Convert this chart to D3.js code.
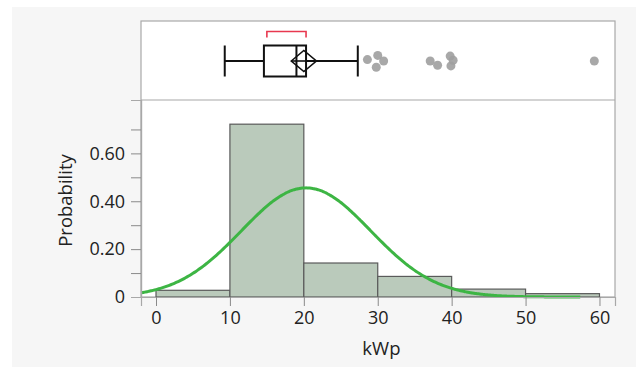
<!DOCTYPE html>
<html><head><meta charset="utf-8">
<script src="https://cdn.jsdelivr.net/npm/d3@7"></script>
<style>
html,body{margin:0;padding:0;background:#fff;}
svg{display:block;}
text{font-family:"Segoe UI","Open Sans","Noto Sans",sans-serif;}
</style></head>
<body>
<script>
// ---- data ----
const binStarts = [0, 10, 20, 30, 40, 50];
const binWidth = 10;
const binProbs = [0.028, 0.722, 0.142, 0.086, 0.033, 0.014];
const xTicks = [0, 10, 20, 30, 40, 50, 60];
const yTicks = [0, 0.2, 0.4, 0.6];
const yMinorTicks = [0.1, 0.3, 0.5, 0.7];
const yTickLabels = ["0", "0.20", "0.40", "0.60"];
const boxStats = {whiskerLow: 9.3, q1: 14.6, median: 19.0, q3: 20.3, whiskerHigh: 27.3};
const meanValue = 20.0;
const meanCI = [18.3, 21.7];
const shortestHalf = [15.0, 20.3];
const outliers = [28.6, 29.8, 30.0, 30.8, 37.1, 38.1, 39.8, 39.9, 40.2, 59.3];
const outlierJitter = [-0.1, 0.45, -0.4, 0.0, 0.0, 0.3, -0.35, 0.35, -0.05, 0.0];
const normalMean = 20.3;
const normalSD = 8.75;
const curveRange = [-2, 57.4];

// ---- layout ----
const W = 636, H = 367;
const svg = d3.select("body").append("svg").attr("width", W).attr("height", H);
svg.append("rect").attr("x", 12).attr("y", 7).attr("width", W - 12).attr("height", H - 7).attr("fill", "#f6f6f6");

const plotL = 141, plotR = 615, boxTop = 21, boxBot = 100, histBot = 297;
const x = d3.scaleLinear().domain([-2.03, 62.1]).range([plotL, plotR]);
const y = d3.scaleLinear().domain([0, 0.823]).range([histBot, boxBot]);

// panels
svg.append("rect").attr("x", plotL).attr("y", boxTop).attr("width", plotR - plotL).attr("height", histBot - boxTop)
  .attr("fill", "#fff").attr("stroke", "#a8a8a8").attr("stroke-width", 1.2);
svg.append("line").attr("x1", plotL).attr("x2", plotR).attr("y1", boxBot).attr("y2", boxBot)
  .attr("stroke", "#a8a8a8").attr("stroke-width", 1.2);

// bars
svg.append("g").selectAll("rect").data(binStarts).join("rect")
  .attr("x", (d) => x(d))
  .attr("width", (d) => x(d + binWidth) - x(d))
  .attr("y", (d, i) => y(binProbs[i]))
  .attr("height", (d, i) => y(0) - y(binProbs[i]))
  .attr("fill", "#bacabb").attr("stroke", "#5a5a5a").attr("stroke-width", 1.2);

// normal curve
const curveX = d3.range(curveRange[0], curveRange[1] + 0.001, 0.2);
const pdf = (v) => binWidth * Math.exp(-0.5 * Math.pow((v - normalMean) / normalSD, 2)) / (normalSD * Math.sqrt(2 * Math.PI));
svg.append("path").datum(curveX)
  .attr("d", d3.line().x((d) => x(d)).y((d) => y(pdf(d))).curve(d3.curveBasis))
  .attr("fill", "none").attr("stroke", "#3db544").attr("stroke-width", 3);

// axes
const gx = svg.append("g").attr("transform", `translate(0,${histBot})`)
  .call(d3.axisBottom(x).tickValues(xTicks).tickSize(9).tickPadding(5).tickFormat(d3.format("d")));
const gy = svg.append("g").attr("transform", `translate(${plotL},0)`)
  .call(d3.axisLeft(y).tickValues(yTicks).tickSize(10).tickPadding(6).tickFormat((d, i) => yTickLabels[i]));
svg.append("g").attr("transform", `translate(${plotL},0)`)
  .call(d3.axisLeft(y).tickValues(yMinorTicks).tickSize(10).tickFormat(""));
svg.selectAll(".domain").attr("stroke", "#a8a8a8").attr("stroke-width", 1.2);
svg.selectAll(".tick line").attr("stroke", "#8a8a8a");
svg.selectAll(".tick text").attr("font-size", 18).attr("fill", "#222")
  .attr("font-family", "'Segoe UI','Open Sans','Noto Sans',sans-serif");

svg.append("text").attr("x", x(30.5)).attr("y", 355).attr("text-anchor", "middle")
  .attr("font-size", 18.5).attr("fill", "#222").text("kWp");
svg.append("text").attr("transform", `translate(72,${(y(0) + y(0.823)) / 2 + 2}) rotate(-90)`)
  .attr("text-anchor", "middle").attr("font-size", 18.5).attr("fill", "#222").text("Probability");

// box plot
const cy = 61, bh = 31;
const bp = svg.append("g").attr("stroke", "#111").attr("stroke-width", 2).attr("fill", "none");
bp.append("line").attr("x1", x(boxStats.whiskerLow)).attr("x2", x(boxStats.q1)).attr("y1", cy).attr("y2", cy);
bp.append("line").attr("x1", x(boxStats.q3)).attr("x2", x(boxStats.whiskerHigh)).attr("y1", cy).attr("y2", cy);
[boxStats.whiskerLow, boxStats.whiskerHigh].forEach((v) => {
  bp.append("line").attr("x1", x(v)).attr("x2", x(v)).attr("y1", cy - bh / 2).attr("y2", cy + bh / 2);
});
bp.append("rect").attr("x", x(boxStats.q1)).attr("width", x(boxStats.q3) - x(boxStats.q1))
  .attr("y", cy - bh / 2).attr("height", bh);
bp.append("line").attr("x1", x(boxStats.median)).attr("x2", x(boxStats.median)).attr("y1", cy - bh / 2).attr("y2", cy + bh / 2);
// mean diamond
const dh = 10.5;
bp.append("path").attr("stroke-width", 1.6).attr("d",
  `M${x(meanCI[0])},${cy} L${x(meanValue)},${cy - dh} L${x(meanCI[1])},${cy} L${x(meanValue)},${cy + dh} Z`);
bp.append("line").attr("stroke-width", 1.6).attr("x1", x(meanCI[0])).attr("x2", x(meanCI[1])).attr("y1", cy).attr("y2", cy);
// shortest half bracket
svg.append("path").attr("fill", "none").attr("stroke", "#e8384f").attr("stroke-width", 1.6)
  .attr("d", `M${x(shortestHalf[0])},37.5 V31.5 H${x(shortestHalf[1])} V37.5`);
// outliers
svg.append("g").selectAll("circle").data(outliers).join("circle")
  .attr("cx", (d) => x(d)).attr("cy", (d, i) => cy + outlierJitter[i] * 14)
  .attr("r", 4.5).attr("fill", "#9e9e9e").attr("opacity", 0.9);
</script>
</body></html>
